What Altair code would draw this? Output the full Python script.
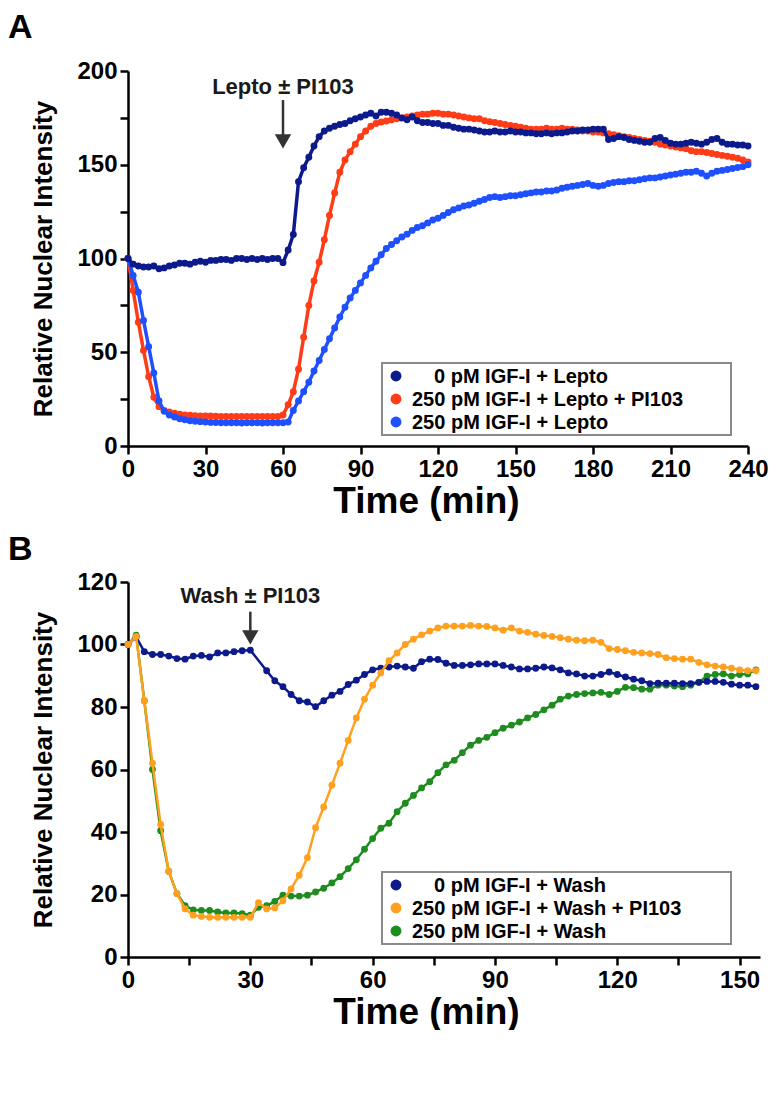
import altair as alt
import pandas as pd

FONT = "Liberation Sans"

# ---------------- Panel A data (Time in min, 2-min steps) ----------------
time_a = list(range(0, 241, 2))
navy_a = [100, 97, 96, 95.5, 95.5, 96, 94.5, 95, 96, 96.5,
          97.5, 97.5, 97, 98, 98.5, 98, 99, 99, 99.5, 99.5,
          99, 100, 100, 99.5, 100, 99.5, 100, 99.5, 100, 100,
          97.8, 104.5, 112.8, 141, 148.4, 154, 160, 165, 168, 169.5,
          170.5, 171.5, 172, 173.5, 174.5, 175.5, 176.5, 177.5, 176, 178,
          178, 177.5, 176.5, 175, 174, 175.5, 173.5, 172.5, 172.5, 172,
          172,
          171, 171, 170, 169.5, 169, 169, 168.5, 168, 167.5, 167.5,
          168, 167.5, 167.5, 168, 167.5, 167.5, 167, 167, 166.5, 166.5,
          167, 166.5, 167, 167, 167.5, 168, 168, 168.5, 168.5, 169,
          169, 169, 163.5, 164, 165, 164.5, 163.5, 163, 162.5, 162,
          162, 164, 164.5, 163, 161.5, 161, 161, 161.5, 162, 161.5,
          161, 162, 163.5, 164, 162, 161, 161, 160.5, 160.5, 160]
red_a = [100, 83, 66, 51, 37, 26, 21, 19, 18.2, 17.5,
         17, 16.6, 16.4, 16.2, 16, 16, 16, 15.9, 15.8, 15.8,
         15.8, 15.8, 15.8, 15.8, 15.8, 15.8, 15.8, 15.8, 15.8, 15.8,
         16.5, 22, 29, 41, 58, 75, 88, 98, 110, 123,
         135, 146, 152.5, 157, 161, 165, 168, 170.5, 172, 172.8,
         173.3, 174, 174.5, 175, 175.5, 176, 176.5, 177, 177, 177.5,
         177.5, 177, 177, 176.5, 176, 175.5, 175, 174.5, 174.5, 173.5,
         173, 172.5, 172, 171.5, 171, 170.5, 170, 169.5, 169, 169,
         169, 169.5, 169, 169, 169.5, 169, 169, 168.5, 168, 168,
         167.5, 167.5, 167, 166.5, 166, 165.5, 165, 164.5, 164, 163.5,
         163, 162.5, 162, 161, 160.5, 160, 159.5, 159, 158.5, 157.5,
         157, 157, 156.5, 156, 155.5, 155, 154.5, 154, 153.5, 152.5,
         151.5]
blue_a = [100, 91, 82, 67, 53, 39, 24, 18.5, 16.5, 15.5,
          14.5, 14, 13.5, 13.2, 13, 12.8, 12.6, 12.5, 12.4, 12.4,
          12.4, 12.4, 12.3, 12.4, 12.4, 12.4, 12.3, 12.4, 12.4, 12.4,
          12.4, 12.8, 19, 24, 29, 34, 40, 45.6, 51.5, 57.2,
          63, 68.8, 74, 79, 83, 87, 91, 95, 98.5, 102,
          105.3, 107.5, 109.5, 111.5, 113, 115, 116.5, 117.5, 119, 120.5,
          121.5, 123, 124.5, 126, 127, 128, 128.5, 129.5, 130.5, 131.5,
          132.5, 133, 132.5, 133, 133.5, 133.5, 134, 134.5, 135, 135.5,
          135.5, 136, 136, 136.5, 137.5, 138, 138.5, 139, 139.5, 140,
          139, 138.5, 139, 140, 140.5, 141, 141, 141.5, 141.5, 142,
          142.5, 143, 143, 143.5, 144, 144.5, 145, 145.5, 146, 146,
          146.5, 145.5, 144, 145.5, 146.5, 147, 147.5, 148, 148.5, 149,
          150]

legend_labels_a = ["0 pM IGF-I + Lepto", "250 pM IGF-I + Lepto + PI103", "250 pM IGF-I + Lepto"]
colors_a = ["#0c1a8c", "#ff3c16", "#1f50ff"]

# ---------------- Panel B data (Time in min, 2-min steps) ----------------
time_b = list(range(0, 155, 2))
navy_b = [100, 102.4, 97.7, 96.8, 96.8, 96.3, 95.5, 95.3, 96.3, 96.5,
          96, 97.3, 97.3, 97.7, 98, 98.2,
          None,
          91.6, 88.4, 86.5, 84, 82, 81.6, 80.1, 82, 83.8,
          85, 87.2, 88.6, 90.4, 91.9, 92.4, 92.8, 93.1, 92.8, 92.4,
          94.5, 95.3, 95.2, 94,
          93.3, 93.3, 93.5, 93.8, 93.8, 93.8, 93.3, 92.8, 92.2, 92.2,
          92.4, 92.8, 92.5, 91.9, 90.9, 90.6, 89.9, 89.9, 90.4, 91.2,
          90.4, 89.6, 88.9, 88.4, 87.5, 87.6, 87.6, 87.6, 87.5, 87.5,
          87.9, 88.2, 88.2, 87.9, 87.3, 87, 87, 86.5]
orange_b = [100, 102.6, 82, 62, 42.4, 27.4, 20.3, 15.4, 13.4, 13,
            12.7, 12.7, 12.7, 12.7, 12.7, 12.7,
            17.4, 15.4, 15.7, 18, 21.8, 26.2, 31.8, 41.4, 48, 55,
            62, 69.3, 76.5, 82.5, 87, 90.9, 94.8, 97.3, 100, 101.7,
            103.1, 104.3, 105.3, 105.9,
            105.9, 105.9, 106.1, 105.9, 105.8, 105.3, 104.6, 105.3, 104.3, 103.9,
            103.3, 102.9, 102.6, 102.2, 101.7, 101.4, 101.2, 101.4, 100.7, 98.7,
            98.4, 98, 97.5, 97.3, 97.1, 96.8, 95.8, 95.5, 95.3, 95.3,
            94.3, 93.5, 93.1, 92.8, 92.4, 91.9, 91.6, 91.6]
green_b = [100, 103, 82, 60, 40.4, 27.4, 20.3, 16.4, 15.1, 14.9,
           14.9, 14.4, 14.1, 14.1, 13.9, 13.4,
           15.9, 16.4, 17.8, 19.8, 19.5, 19.5, 19.8, 20.8, 22, 23.7,
           25.7, 28.3, 31.1, 34.5, 37.9, 41.2, 42.8, 46.5, 49.2, 51.7,
           54.1, 56.1, 59, 61.5,
           62.9, 65.4, 67.8, 69.3, 70.3, 71.8, 73.2, 74.2, 75.2, 76.5,
           77.6, 79.1, 80.6, 82.5, 83.5, 84, 84.3, 84.5, 84.7, 84,
           85, 86.3, 86.2, 85.7, 85.7, 87, 87, 86.7, 86.5, 87,
           87.9, 89.9, 90.4, 90.6, 89.9, 90.4, 90.6, 91.9]

legend_labels_b = ["0 pM IGF-I + Wash", "250 pM IGF-I + Wash + PI103", "250 pM IGF-I + Wash"]
colors_b = ["#0c1a8c", "#ffa01e", "#1f8c1f"]

# annotations (arrow positions in data units)
annot_a = {"t": [60], "text_v": [191.5], "shaft_top": [184.5], "shaft_bot": [165], "head_v": [162.5],
           "label": ["Lepto \u00b1 PI103"]}
annot_b = {"t": [30], "text_v": [115.5], "shaft_top": [110.5], "shaft_bot": [104], "head_v": [102.3],
           "label": ["Wash \u00b1 PI103"]}

# legend box layout (pixels within the plot area)
legend_a = dict(x0=254, x1=603, y0=292, y1=364, row0=305, step=23, sym_x=268, txt_x=[306, 284, 284])
legend_b = dict(x0=254, x1=603, y0=290, y1=362, row0=303, step=23, sym_x=268, txt_x=[306, 284, 284])


def panel(times, series, labels, colors, order, xmax, xstep_lab, ymax, ystep, ystep_lab,
          width, height, annot, letter, letter_y, leg, pt_size, line_w):
    x = alt.X("t:Q", scale=alt.Scale(domain=[0, xmax], nice=False, zero=True),
              axis=alt.Axis(values=list(range(0, xmax + 1, 15)),
                            labelExpr=f"datum.value % {xstep_lab} === 0 ? datum.label : ''",
                            title="Time (min)", titleX=298))
    y = alt.Y("v:Q", scale=alt.Scale(domain=[0, ymax], nice=False),
              axis=alt.Axis(values=list(range(0, ymax + 1, ystep)),
                            labelExpr=f"datum.value % {ystep_lab} === 0 ? datum.label : ''",
                            title="Relative Nuclear Intensity"))
    layers = []
    for idx in order:
        df = pd.DataFrame({"t": times, "v": series[idx]}).dropna()
        base = alt.Chart(df).encode(x=x, y=y)
        layers.append(base.mark_line(strokeWidth=line_w, color=colors[idx]))
        layers.append(base.mark_circle(size=pt_size, opacity=1, color=colors[idx]))
    adf = pd.DataFrame(annot)
    txt = alt.Chart(adf).mark_text(font=FONT, fontSize=22, fontWeight="bold", color="#1a1a1a",
                                   baseline="middle").encode(
        x=alt.X("t:Q"), y=alt.Y("text_v:Q"), text="label:N")
    shaft = alt.Chart(adf).mark_rule(color="#333333", strokeWidth=2.5).encode(
        x="t:Q", y="shaft_top:Q", y2="shaft_bot:Q")
    head = alt.Chart(adf).mark_point(shape="triangle-down", size=270, filled=True,
                                     color="#333333", opacity=1).encode(
        x="t:Q", y="head_v:Q")
    lett = alt.Chart(pd.DataFrame({"label": [letter]})).mark_text(
        font=FONT, fontSize=34, fontWeight="bold", color="black", align="left",
        baseline="alphabetic").encode(x=alt.value(-120), y=alt.value(letter_y), text="label:N")
    layers += [shaft, head, txt, lett]
    # legend box
    box = alt.Chart(pd.DataFrame({"k": [0]})).mark_rect(
        fill="white", stroke="#8a8a8a", strokeWidth=2).encode(
        x=alt.value(leg["x0"]), x2=alt.value(leg["x1"]),
        y=alt.value(leg["y0"]), y2=alt.value(leg["y1"]))
    layers.append(box)
    for i, (lab, col) in enumerate(zip(labels, colors)):
        ry = leg["row0"] + i * leg["step"]
        src = pd.DataFrame({"label": [lab]})
        layers.append(alt.Chart(src).mark_circle(size=120, opacity=1, color=col).encode(
            x=alt.value(leg["sym_x"]), y=alt.value(ry)))
        layers.append(alt.Chart(src).mark_text(
            font=FONT, fontSize=20, fontWeight="bold", color="black", align="left",
            baseline="middle").encode(x=alt.value(leg["txt_x"][i]), y=alt.value(ry + 1),
                                      text="label:N"))
    return alt.layer(*layers).properties(width=width, height=height)


chart_a = panel(time_a, [navy_a, red_a, blue_a], legend_labels_a, colors_a, [1, 2, 0],
                240, 30, 200, 25, 50, 620, 375, annot_a, "A", -33, legend_a, 48, 3.5)
chart_b = panel(time_b, [navy_b, orange_b, green_b], legend_labels_b, colors_b, [2, 0, 1],
                155, 30, 120, 10, 20, 632, 375, annot_b, "B", -22, legend_b, 46, 2.5)

chart = alt.vconcat(chart_a, chart_b, spacing=14).resolve_scale(
    x="independent", y="independent"
).properties(
    padding={"left": 0, "top": 3, "right": 0, "bottom": 0}
).configure_axis(
    domainColor="black", domainWidth=2.5, tickColor="black", tickWidth=2.5, tickSize=8,
    labelFont=FONT, labelFontSize=24, labelFontWeight="bold", labelColor="black",
    labelPadding=3, titleFont=FONT, titleFontWeight="bold",
    titleColor="black", grid=False, labelFlush=False, labelOverlap=False
).configure_axisY(titlePadding=20, titleFontSize=26
).configure_axisX(titlePadding=2, titleFontSize=37
).configure_view(stroke=None)

chart.save("out.html", embed_options={"renderer": "svg", "actions": False})
